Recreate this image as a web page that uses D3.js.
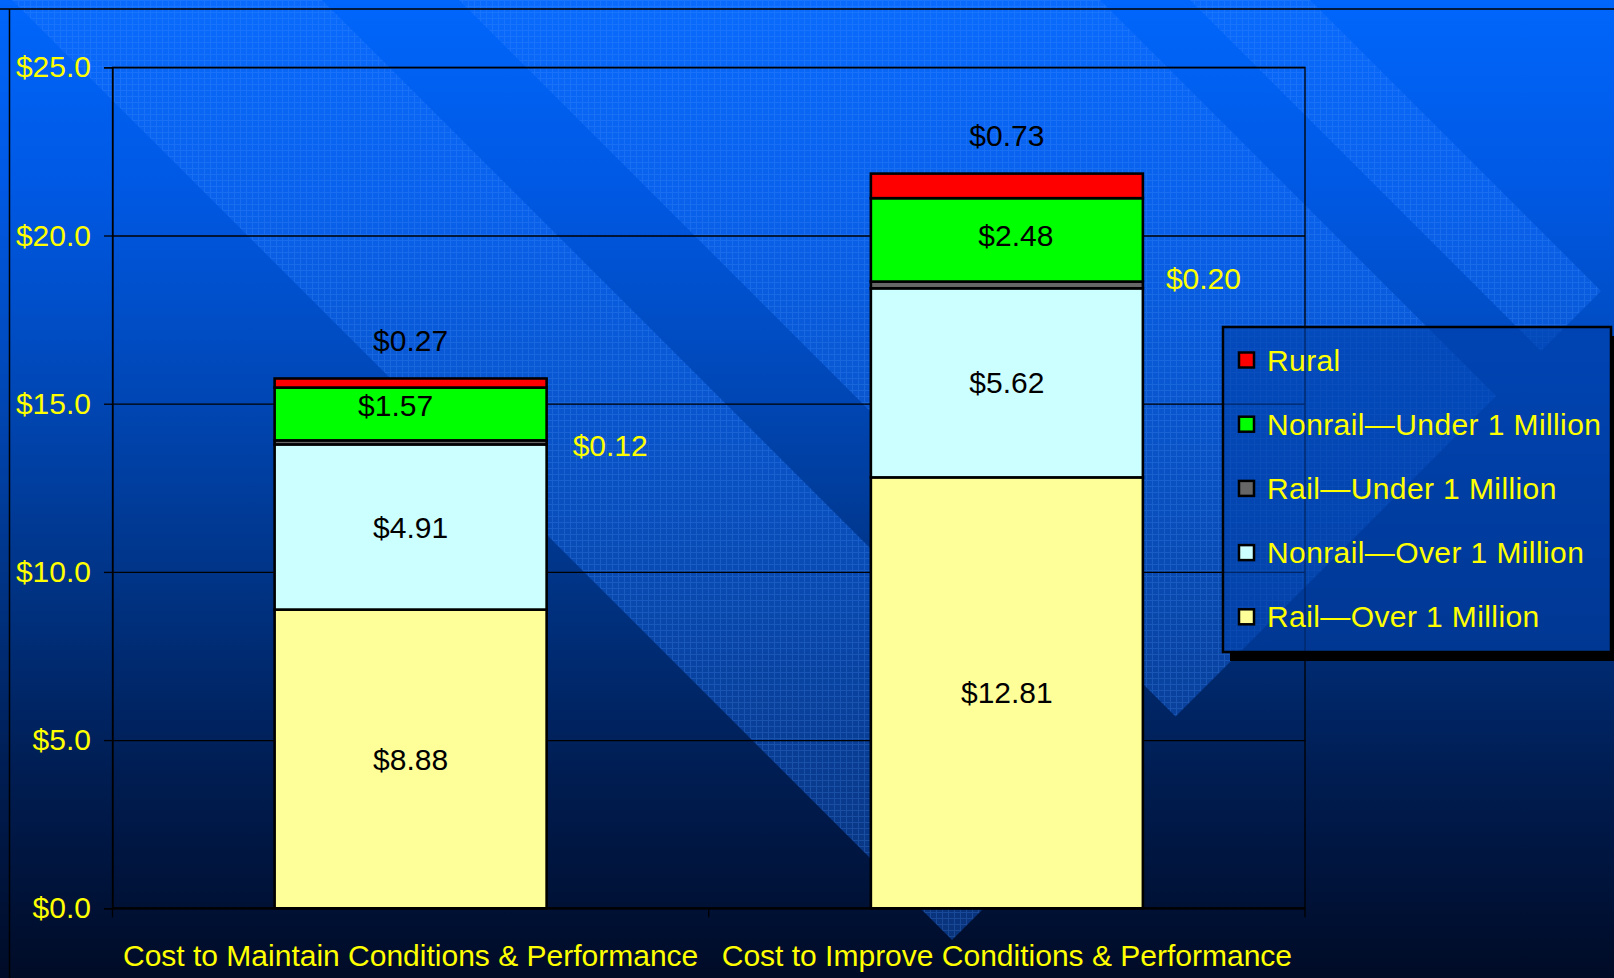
<!DOCTYPE html>
<html>
<head>
<meta charset="utf-8">
<script src="https://cdn.jsdelivr.net/npm/d3@7"></script>
<style>
  body { margin: 0; background: #000c28; }
  svg { display: block; font-family: "Liberation Sans", Arial, sans-serif; }
</style>
</head>
<body>
<div id="chart"></div>
<script>
/*-------------------- Données --------------------*/
var categories = ["Cost to Maintain Conditions & Performance", "Cost to Improve Conditions & Performance"];
var seriesNames = ["Rail—Over 1 Million", "Nonrail—Over 1 Million", "Rail—Under 1 Million", "Nonrail—Under 1 Million", "Rural"];
var railOver = [8.88, 12.81];
var nonrailOver = [4.91, 5.62];
var railUnder = [0.12, 0.20];
var nonrailUnder = [1.57, 2.48];
var rural = [0.27, 0.73];
var yTicks = [0, 5, 10, 15, 20, 25];

var seriesColors = ["#ffff99", "#ccffff", "#666666", "#00ff00", "#ff0000"];

var width = 1614, height = 978;
var margin = {top: 67.3, right: 309, bottom: 69.7, left: 112.5};
var plotW = width - margin.left - margin.right;
var plotH = height - margin.top - margin.bottom;

var rows = categories.map(function(c, i) {
    return {
        cat: c,
        "Rail—Over 1 Million": railOver[i],
        "Nonrail—Over 1 Million": nonrailOver[i],
        "Rail—Under 1 Million": railUnder[i],
        "Nonrail—Under 1 Million": nonrailUnder[i],
        "Rural": rural[i]
    };
});

var svg = d3.select("#chart").append("svg")
    .attr("width", width)
    .attr("height", height);

/*-------------------- Fond de la diapo --------------------*/
var defs = svg.append("defs");
var grad = defs.append("linearGradient")
    .attr("id", "bg").attr("x1", 0).attr("y1", 0).attr("x2", 0).attr("y2", 1);
[[0, "#0066fc"], [0.2, "#0058e2"], [0.4, "#0047b6"], [0.6, "#003384"], [0.8, "#001c50"], [1, "#000b26"]]
    .forEach(function(s) { grad.append("stop").attr("offset", s[0]).attr("stop-color", s[1]); });

var pat = defs.append("pattern")
    .attr("id", "grille").attr("width", 6).attr("height", 6)
    .attr("patternUnits", "userSpaceOnUse");
pat.append("rect").attr("width", 6).attr("height", 6).attr("fill", "rgb(25,115,255)").attr("opacity", 0.36);
pat.append("path").attr("d", "M0 0.5H6M0.5 0V6")
    .attr("stroke", "rgb(90,160,255)").attr("stroke-width", 1).attr("opacity", 0.2);

svg.append("rect").attr("width", width).attr("height", height).attr("fill", "url(#bg)");

// bandes diagonales décoratives (x - y = c1..c2, coupées par x + y = fin)
var fin = 1892;
[[12, 322], [459, 1100], [1190, 1310]].forEach(function(b) {
    var pts = [[b[0], 0], [b[1], 0], [(fin + b[1]) / 2, (fin - b[1]) / 2], [(fin + b[0]) / 2, (fin - b[0]) / 2]];
    svg.append("polygon")
        .attr("points", pts.map(function(p) { return p.join(","); }).join(" "))
        .attr("fill", "url(#grille)");
});

svg.append("line").attr("x1", 0).attr("x2", width).attr("y1", 9).attr("y2", 9)
    .attr("stroke", "#000").attr("stroke-width", 1.5);
svg.append("line").attr("x1", 9.5).attr("x2", 9.5).attr("y1", 9).attr("y2", height)
    .attr("stroke", "#000").attr("stroke-width", 1.5);

/*-------------------- Graphique --------------------*/
var g = svg.append("g").attr("transform", "translate(" + margin.left + "," + margin.top + ")");

var xScale = d3.scaleBand()
    .domain(categories)
    .range([0, plotW])
    .paddingInner(0.5438)
    .paddingOuter(0.2719);

var yScale = d3.scaleLinear()
    .domain([0, 25])
    .range([plotH, 0]);

// grille
g.append("g")
    .call(d3.axisLeft(yScale).tickValues(yTicks).tickSize(-plotW).tickFormat(""))
    .call(function(s) { s.select(".domain").remove(); })
    .selectAll("line").attr("stroke", "#000").attr("stroke-width", 1.3);

g.append("rect")
    .attr("width", plotW).attr("height", plotH)
    .attr("fill", "none").attr("stroke", "#000").attr("stroke-width", 1.3);

// axe Y
var yAxis = g.append("g")
    .call(d3.axisLeft(yScale).tickValues(yTicks).tickSize(8.5).tickPadding(13)
        .tickFormat(function(d) { return "$" + d.toFixed(1); }));
yAxis.select(".domain").attr("stroke", "#000").attr("stroke-width", 1.3);
yAxis.selectAll("line").attr("stroke", "#000").attr("stroke-width", 1.3);
yAxis.selectAll("text")
    .attr("fill", "#ffff00")
    .style("font-size", "30px")
    .style("font-family", "'Liberation Sans', Arial, sans-serif");

// axe X : traits entre les catégories
var step = xScale.step();
var bornes = d3.range(categories.length + 1).map(function(i) {
    return i === 0 ? 0 : (i === categories.length ? plotW : xScale(categories[i - 1]) + xScale.bandwidth() + step * xScale.paddingInner() / 2);
});
g.append("line").attr("x1", 0).attr("x2", plotW).attr("y1", plotH).attr("y2", plotH)
    .attr("stroke", "#000").attr("stroke-width", 2);
g.selectAll(".tickx").data(bornes).enter().append("line")
    .attr("class", "tickx")
    .attr("x1", function(d) { return d; }).attr("x2", function(d) { return d; })
    .attr("y1", plotH).attr("y2", plotH + 9)
    .attr("stroke", "#000").attr("stroke-width", 1.3);

g.selectAll(".catlabel").data(categories).enter().append("text")
    .attr("class", "catlabel")
    .attr("x", function(d) { return xScale(d) + xScale.bandwidth() / 2; })
    .attr("y", plotH + 58)
    .attr("text-anchor", "middle")
    .attr("fill", "#ffff00")
    .style("font-size", "30px")
    .text(function(d) { return d; });

// barres empilées
var stack = d3.stack().keys(seriesNames)(rows);

var layers = g.selectAll(".serie").data(stack).enter().append("g")
    .attr("class", "serie")
    .attr("fill", function(d, i) { return seriesColors[i]; });

layers.selectAll("rect").data(function(d) { return d; }).enter().append("rect")
    .attr("x", function(d) { return xScale(d.data.cat); })
    .attr("y", function(d) { return yScale(d[1]); })
    .attr("width", xScale.bandwidth())
    .attr("height", function(d) { return yScale(d[0]) - yScale(d[1]); })
    .attr("stroke", "#000")
    .attr("stroke-width", 2.6);

// étiquettes de valeurs
var nudge = {
    "Nonrail—Under 1 Million": [[-15, -9], [9, -4]],
    "Rail—Under 1 Million": [[0, 0], [-3, -10]]
};
stack.forEach(function(layer) {
    layer.forEach(function(seg, j) {
        var key = layer.key;
        var v = seg[1] - seg[0];
        var cx = xScale(seg.data.cat) + xScale.bandwidth() / 2;
        var cy = (yScale(seg[0]) + yScale(seg[1])) / 2;
        var anchor = "middle", fill = "#000";
        if (key === "Rural") {
            cy = yScale(seg[1]) - 38;
        } else if (key === "Rail—Under 1 Million") {
            cx = xScale(seg.data.cat) + xScale.bandwidth() + 26;
            cy = cy + 3;
            anchor = "start";
            fill = "#ffff00";
        }
        if (nudge[key]) { cx += nudge[key][j][0]; cy += nudge[key][j][1]; }
        g.append("text")
            .attr("x", cx)
            .attr("y", cy + 10.6)
            .attr("text-anchor", anchor)
            .attr("fill", fill)
            .style("font-size", "30px")
            .text("$" + v.toFixed(2));
    });
});

/*-------------------- Légende --------------------*/
var lw = 388, lh = 325;
var legend = svg.append("g").attr("transform", "translate(1223,327)");
// ombre portée (seulement la partie qui dépasse)
legend.append("path")
    .attr("d", "M" + lw + ",9H" + (lw + 7) + "V" + (lh + 9) + "H7V" + lh + "H" + lw + "Z")
    .attr("fill", "#000");
legend.append("rect")
    .attr("width", lw).attr("height", lh)
    .attr("fill", "#0040a8").attr("fill-opacity", 0.6)
    .attr("stroke", "#000").attr("stroke-width", 2.5);

var legendItems = seriesNames.slice().reverse();
var items = legend.selectAll(".item").data(legendItems).enter().append("g")
    .attr("class", "item")
    .attr("transform", function(d, i) { return "translate(0," + (33 + i * 64.2) + ")"; });
items.append("rect")
    .attr("x", 16).attr("y", -7.5).attr("width", 15).attr("height", 15)
    .attr("fill", function(d) { return seriesColors[seriesNames.indexOf(d)]; })
    .attr("stroke", "#000").attr("stroke-width", 2.5);
items.append("text")
    .attr("x", 44)
    .attr("y", 10.6)
    .attr("fill", "#ffff00")
    .style("font-size", "30px")
    .style("letter-spacing", "0.4px")
    .text(function(d) { return d; });
</script>
</body>
</html>
